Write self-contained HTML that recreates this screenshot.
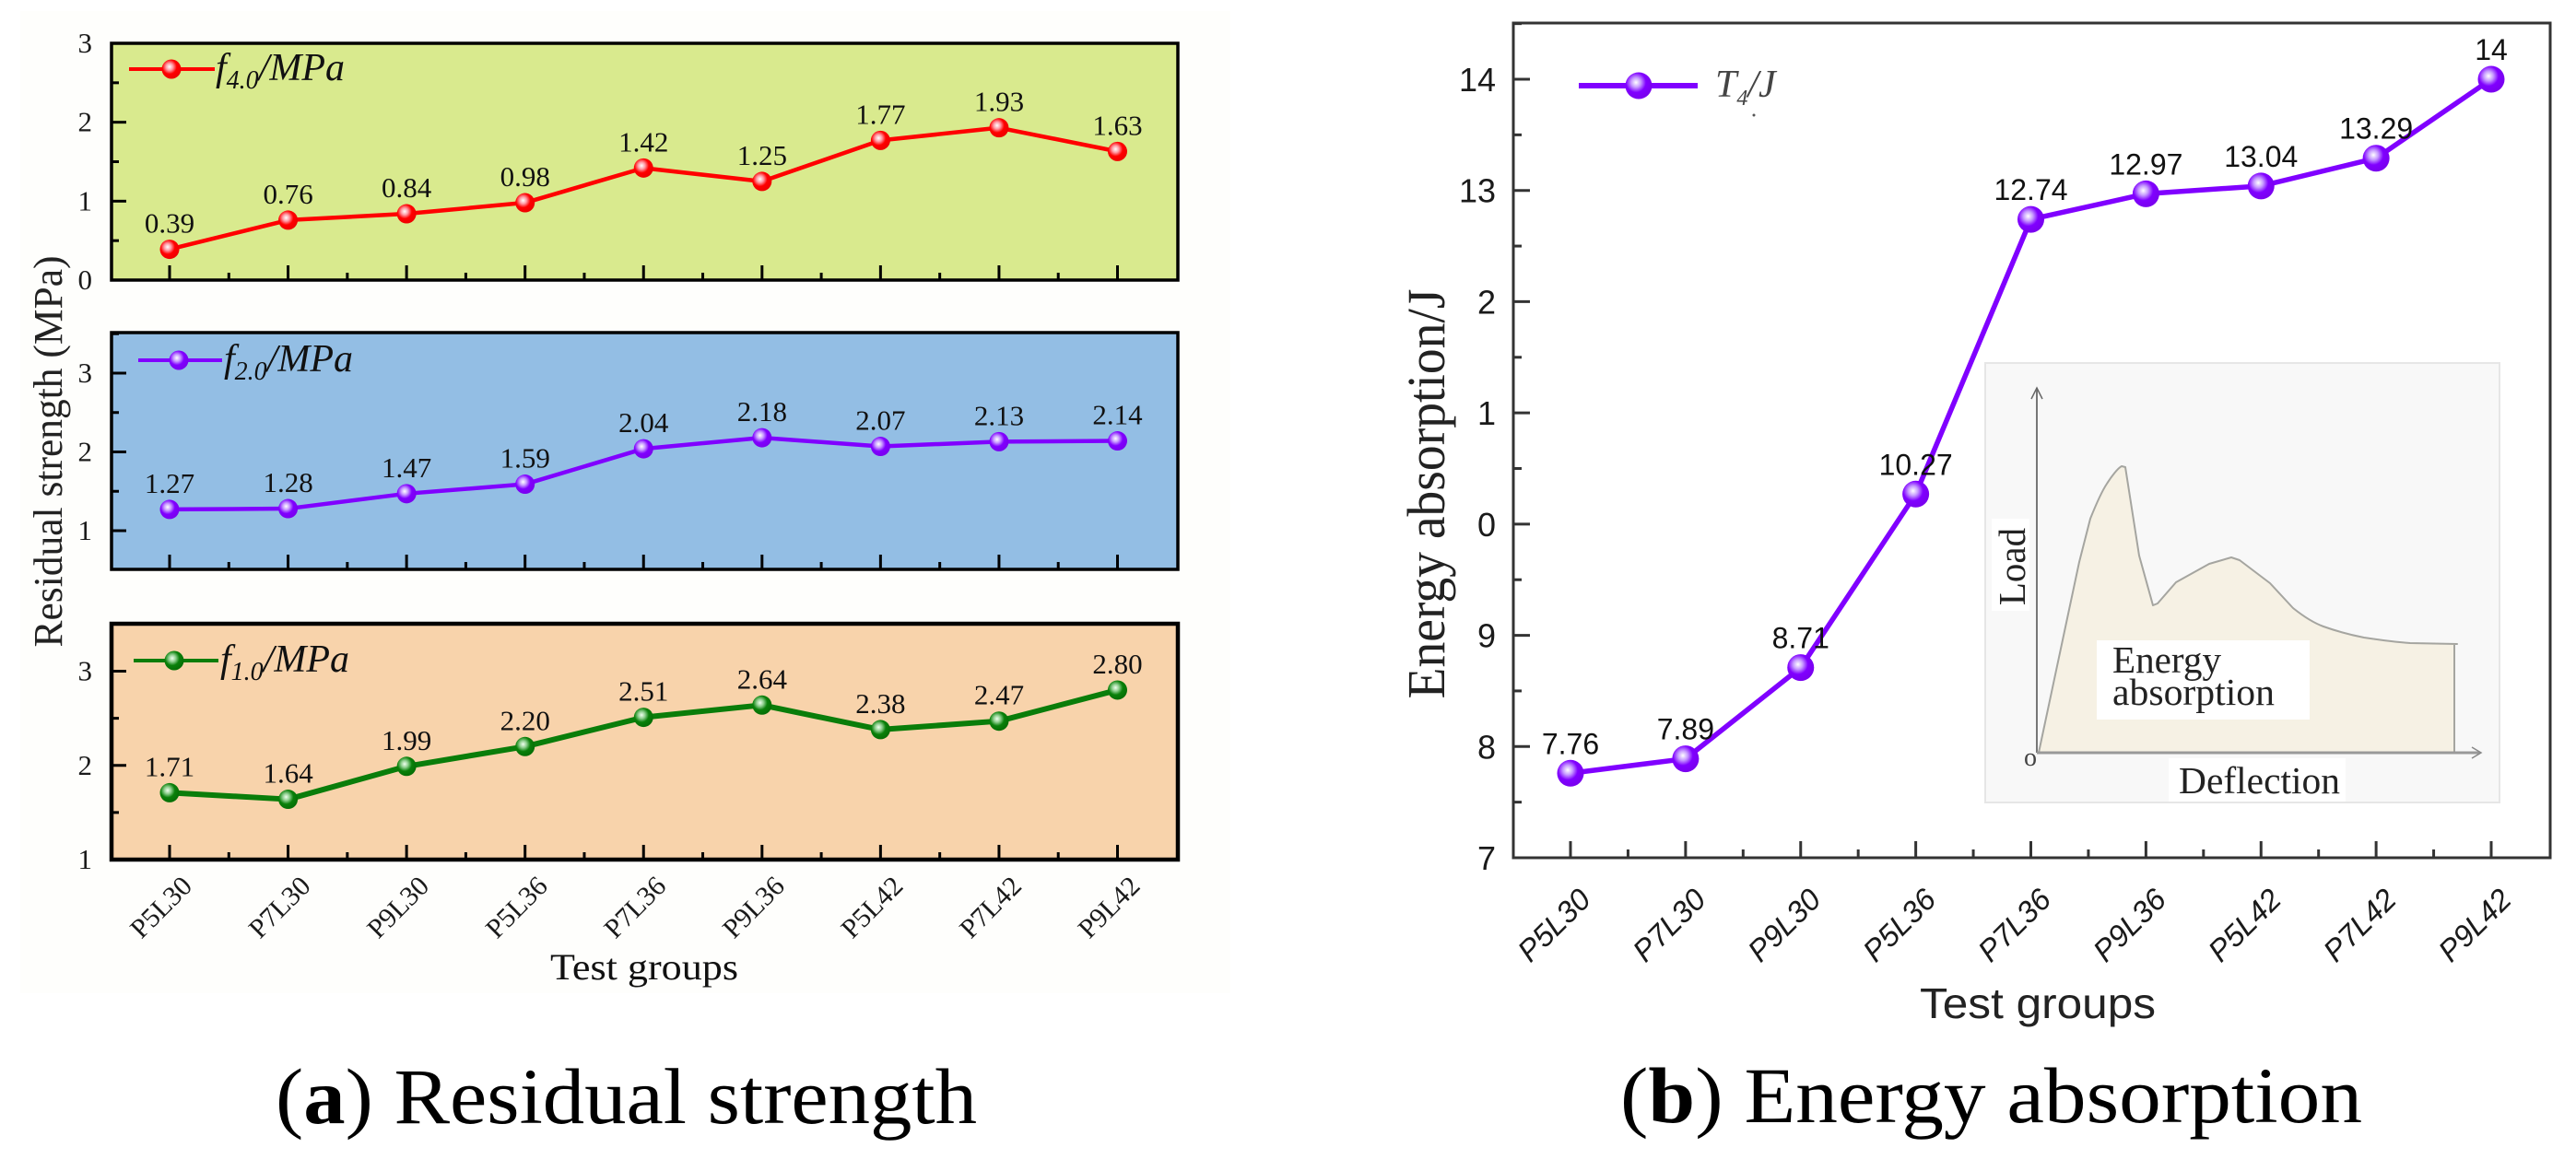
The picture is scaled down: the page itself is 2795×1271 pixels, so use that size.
<!DOCTYPE html>
<html lang="en">
<head>
<meta charset="utf-8">
<title>Residual strength and energy absorption</title>
<style>
html,body{margin:0;padding:0;background:#fff;width:2795px;height:1271px;overflow:hidden}
svg{display:block}
.serif{font-family:"Liberation Serif",serif}
.sans{font-family:"Liberation Sans",sans-serif}
</style>
</head>
<body>
<svg id="figure" xmlns="http://www.w3.org/2000/svg" width="2795" height="1271" viewBox="0 0 2795 1271">
  <defs>
    <radialGradient id="ball-red" cx="0.4" cy="0.38" r="0.6"><stop offset="0" stop-color="#fff"/><stop offset="0.3" stop-color="#ff9aa5"/><stop offset="0.62" stop-color="#ff0000"/><stop offset="1" stop-color="#f00000"/></radialGradient>
    <radialGradient id="ball-purple" cx="0.4" cy="0.38" r="0.6"><stop offset="0" stop-color="#fff"/><stop offset="0.3" stop-color="#c79bff"/><stop offset="0.62" stop-color="#8000ff"/><stop offset="1" stop-color="#7a00f0"/></radialGradient>
    <radialGradient id="ball-green" cx="0.4" cy="0.38" r="0.6"><stop offset="0" stop-color="#f0fff0"/><stop offset="0.3" stop-color="#8fcf8f"/><stop offset="0.62" stop-color="#0a800a"/><stop offset="1" stop-color="#067006"/></radialGradient>
  </defs>

  <rect x="22" y="12" width="1313" height="1066" fill="#fefefc"/>

  <g id="chart-a"></g>
  <text class="serif" transform="translate(67,490) rotate(-90)" text-anchor="middle" font-size="44" fill="#222" textLength="425" lengthAdjust="spacingAndGlyphs">Residual strength (MPa)</text>
  <text class="serif" x="699" y="1063" text-anchor="middle" font-size="40" fill="#111" textLength="204" lengthAdjust="spacingAndGlyphs">Test groups</text>
  <text class="serif" x="299" y="1219" font-size="86" fill="#000" textLength="761" lengthAdjust="spacingAndGlyphs">(<tspan font-weight="bold">a</tspan>) Residual strength</text>

  <g id="chart-b"></g>

  <g>
    <rect x="2154" y="394" width="558" height="477" fill="#f8f8f8" stroke="#e6e6e6" stroke-width="2"/>
    <path d="M2212 817 L2246 657 L2256 610 L2268 563 C2274 548 2280 534 2286 525 C2291 517 2298 508 2302 506 L2306 507 L2321 603 L2336 657 L2341 655 L2361 632 L2397 612 L2421 605 L2430 608 L2463 633 L2488 660 C2498 668 2510 676 2521 680 C2535 685 2550 689 2565 692 C2585 695 2600 697 2615 698 L2666 699 L2663 699 L2663 817 Z" fill="#f6f1e4" stroke="#a5a5a0" stroke-width="2" stroke-linejoin="round"/>
    <rect x="2275" y="695" width="231" height="86" fill="#fff"/>
    <text class="serif" x="2292" y="730" font-size="41" fill="#222" textLength="118" lengthAdjust="spacingAndGlyphs">Energy</text>
    <text class="serif" x="2292" y="765" font-size="41" fill="#222" textLength="176" lengthAdjust="spacingAndGlyphs">absorption</text>
    <line x1="2210" y1="817" x2="2210" y2="421" stroke="#777" stroke-width="2"/>
    <path d="M2204 433 L2210 421 L2216 433" fill="none" stroke="#666" stroke-width="1.5"/>
    <line x1="2210" y1="817" x2="2691" y2="817" stroke="#999" stroke-width="3"/>
    <path d="M2682 811 L2692 817 L2682 823" fill="none" stroke="#888" stroke-width="1.5"/>
    <rect x="2161" y="563" width="41" height="100" fill="#fff"/>
    <text class="serif" transform="translate(2197,615) rotate(-90)" text-anchor="middle" font-size="41" fill="#222">Load</text>
    <text class="serif" x="2203" y="831" text-anchor="middle" font-size="28" fill="#444">o</text>
    <rect x="2353" y="823" width="192" height="47" fill="#fff"/>
    <text class="serif" x="2364" y="861" font-size="41" fill="#222" textLength="175" lengthAdjust="spacingAndGlyphs">Deflection</text>
  </g>

  <circle cx="1903" cy="125" r="1.5" fill="#555"/>
  <text class="serif" transform="translate(1567,536) rotate(-90)" text-anchor="middle" font-size="58" fill="#222" textLength="445" lengthAdjust="spacingAndGlyphs">Energy absorption/J</text>
  <text class="sans" x="2211" y="1105" text-anchor="middle" font-size="46" fill="#222" textLength="256" lengthAdjust="spacingAndGlyphs">Test groups</text>
  <text class="serif" x="1758" y="1218" font-size="86" fill="#000" textLength="805" lengthAdjust="spacingAndGlyphs">(<tspan font-weight="bold">b</tspan>) Energy absorption</text>
</svg>

<script>
const categories = ['P5L30','P7L30','P9L30','P5L36','P7L36','P9L36','P5L42','P7L42','P9L42'];
const f40Values = [0.39,0.76,0.84,0.98,1.42,1.25,1.77,1.93,1.63];
const f20Values = [1.27,1.28,1.47,1.59,2.04,2.18,2.07,2.13,2.14];
const f10Values = [1.71,1.64,1.99,2.20,2.51,2.64,2.38,2.47,2.80];
const t4Values = [7.76,7.89,8.71,10.27,12.74,12.97,13.04,13.29,14];
const f40Ticks = [0,1,2,3];
const f20Ticks = [1,2,3];
const f10Ticks = [1,2,3];
const t4Ticks = [7,8,9,10,11,12,13,14];
const t4TickLabels = ['7','8','9','0','1','2','13','14'];

const NS = 'http://www.w3.org/2000/svg';
function make(parent, tag, attrs, text) {
  const el = document.createElementNS(NS, tag);
  for (const k in attrs) el.setAttribute(k, attrs[k]);
  if (text !== undefined) el.textContent = text;
  parent.appendChild(el);
  return el;
}
function linear(d0, d1, r0, r1) {
  return v => r0 + (v - d0) * (r1 - r0) / (d1 - d0);
}

function drawFrame(root, o) {
  const bg = make(root, 'rect', {x:o.left, y:o.top, width:o.right-o.left, height:o.bottom-o.top, fill:o.fill});
  
  
}

function drawAxes(root, o, xScale, yScale, ticks, tickLabels) {
  const axes = make(root, 'g', {});
  
  
  ticks.forEach((t, i) => {
    const y = yScale(t);
    const tick = make(axes, 'line', {x1:o.left, x2:o.left+o.majorY, y1:y, y2:y, stroke:o.axisColor, 'stroke-width':3});
    
    
    const label = make(axes, 'text', {x:o.yLabelX, y:y+o.yLabelDy, 'text-anchor':'end', 'font-size':o.tickFont, fill:'#1a1a1a', class:o.fontClass}, tickLabels[i]);
    
    
    const mid = t + o.minorStep;
    if (i < ticks.length - 1 || yScale(mid) > o.top) {
      const minorY = yScale(mid);
      const minor = make(axes, 'line', {x1:o.left, x2:o.left+o.minorY, y1:minorY, y2:minorY, stroke:o.axisColor, 'stroke-width':3});
      
      
    }
  });
  categories.forEach((c, i) => {
    const x = xScale(i);
    const tick = make(axes, 'line', {x1:x, x2:x, y1:o.bottom, y2:o.bottom-o.majorX, stroke:o.axisColor, 'stroke-width':3});
    
    
    if (i < categories.length - 1) {
      const mx = xScale(i + 0.5);
      const minor = make(axes, 'line', {x1:mx, x2:mx, y1:o.bottom, y2:o.bottom-o.minorX, stroke:o.axisColor, 'stroke-width':3});
      
      
    }
    if (o.showCategories) {
      const lx = x + o.catDx, ly = o.catY;
      const cat = make(axes, 'text', {transform:'translate('+lx+','+ly+') rotate(-45)', 'text-anchor':'middle', 'dominant-baseline':'central', 'font-size':o.catFont, 'font-style':o.catStyle, fill:'#1a1a1a', class:o.fontClass}, c);
      
      
    }
  });
  const frame = make(axes, 'rect', {x:o.left, y:o.top, width:o.right-o.left, height:o.bottom-o.top, fill:'none', stroke:o.axisColor, 'stroke-width':o.frameWidth});
  
  
}

function drawSeries(root, o, xScale, yScale, values) {
  const pts = values.map((v, i) => xScale(i) + ',' + yScale(v)).join(' ');
  const line = make(root, 'polyline', {points:pts, fill:'none', stroke:o.color, 'stroke-width':o.lineWidth, 'stroke-linejoin':'round'});
  
  
  values.forEach((v, i) => {
    const point = make(root, 'circle', {cx:xScale(i), cy:yScale(v), r:o.r, fill:'url(#'+o.ball+')'});
    
    
    const label = make(root, 'text', {x:xScale(i), y:yScale(v)+o.valueDy, 'text-anchor':'middle', 'font-size':o.valueFont, fill:'#111', class:o.fontClass}, o.format(v));
    
    
  });
}

function drawLegend(root, o) {
  const g = make(root, 'g', {});
  
  
  const l = make(g, 'line', {x1:o.lgX1, x2:o.lgX2, y1:o.lgY, y2:o.lgY, stroke:o.color, 'stroke-width':o.lgLine});
  
  
  const m = make(g, 'circle', {cx:o.lgM, cy:o.lgY, r:o.r, fill:'url(#'+o.ball+')'});
  
  
  const t = make(g, 'text', {x:o.lgT, y:o.lgY+12, 'font-size':o.lgFont, 'font-style':'italic', fill:o.lgColor, class:'serif'});
  
  
  make(t, 'tspan', {}, o.lgMain);
  make(t, 'tspan', {dy:9, 'font-size':o.lgSubFont}, o.lgSub);
  make(t, 'tspan', {dy:-9}, o.lgTail);
}

const chartA = document.getElementById('chart-a');
const chartB = document.getElementById('chart-b');
const xA = linear(0, 8, 184, 1212.5);
const xB = linear(0, 8, 1704, 2703);
const commonA = {left:121, right:1278, axisColor:'#000', frameWidth:3.5, majorY:16, minorY:8, majorX:16, minorX:8,
  yLabelX:100, yLabelDy:10, tickFont:31, fontClass:'serif', minorStep:0.5, lineWidth:4.5, r:10.5, valueDy:-18, valueFont:31,
  format:v => v.toFixed(2), lgLine:4, lgFont:42, lgSubFont:28, lgColor:'#111', lgTail:'/MPa', lgMain:'f',
  catDx:-9, catY:985, catFont:30, catStyle:'normal'};

const p1 = Object.assign({}, commonA, {name:'f40', top:47, bottom:304, fill:'#d9ea8e', color:'#ff0000', ball:'ball-red',
  lgX1:140, lgX2:233, lgY:75, lgM:186, lgT:234, lgSub:'4.0'});
const p2 = Object.assign({}, commonA, {name:'f20', top:361, bottom:618, fill:'#93bee4', color:'#8000ff', ball:'ball-purple',
  lgX1:150, lgX2:241, lgY:391, lgM:194, lgT:243, lgSub:'2.0'});
const p3 = Object.assign({}, commonA, {name:'f10', top:677, bottom:933, fill:'#f8d3ab', color:'#0a7d0a', ball:'ball-green', lineWidth:6, frameWidth:4.5,
  lgX1:145, lgX2:237, lgY:717, lgM:189, lgT:239, lgSub:'1.0', showCategories:true});

const yP1 = linear(0, 3, 304, 47);
const yP2 = linear(1, 3, 576, 405);
const yP3 = linear(1, 3, 933, 728.5);

[[p1, yP1, f40Ticks, f40Values], [p2, yP2, f20Ticks, f20Values], [p3, yP3, f10Ticks, f10Values]].forEach(([o, y, ticks, vals]) => {
  drawFrame(chartA, o);
  drawAxes(chartA, o, xA, y, ticks, ticks.map(String));
  drawSeries(chartA, o, xA, y, vals);
  drawLegend(chartA, o);
});

const pb = {name:'t4', left:1642, right:2767, top:25, bottom:931, fill:'#fff', axisColor:'#333', frameWidth:3, majorY:18, minorY:9, majorX:18, minorX:9,
  yLabelX:1623, yLabelDy:13, tickFont:36, fontClass:'sans', minorStep:0.5, color:'#8000ff', ball:'ball-purple', lineWidth:5.5, r:14.5, valueDy:-21, valueFont:32,
  format:v => String(v), lgLine:6, lgFont:42, lgSubFont:24, lgColor:'#444', lgTail:'/J', lgMain:'T',
  lgX1:1713, lgX2:1842, lgY:93, lgM:1778, lgT:1861, lgSub:'4', showCategories:true, catDx:-18, catY:1004, catFont:33, catStyle:'italic'};
const yB = linear(7, 14, 931, 86);

drawFrame(chartB, pb);
drawAxes(chartB, pb, xB, yB, t4Ticks, t4TickLabels);
drawSeries(chartB, pb, xB, yB, t4Values);
drawLegend(chartB, pb);
</script>
</body>
</html>
